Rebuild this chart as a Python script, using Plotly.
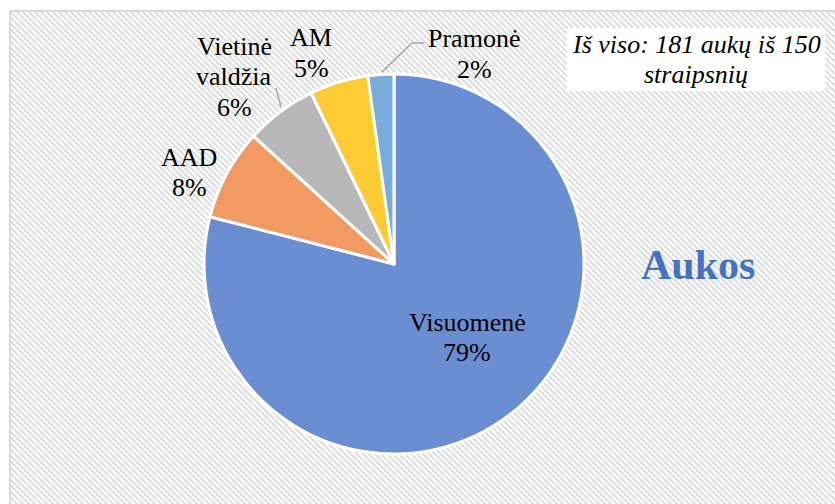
import base64
import plotly.graph_objects as go

# ---- data ----
categories = ["Visuomenė", "AAD", "Vietinė valdžia", "AM", "Pramonė"]
victims = [143, 14, 11, 9, 4]
slice_colors = ["#6B8ED2", "#F19B63", "#B8B8B8", "#FFCB33", "#78ACDD"]
total_victims = 181
total_articles = 150
title_text = "Aukos"

W, H = 835, 504
def px(x):
    return x / W
def py(y):
    return 1 - y / H

# ---- hatched background as SVG ----
bw, bh = W - 9, H - 10
svg = f'''<svg xmlns="http://www.w3.org/2000/svg" width="{bw}" height="{bh}" viewBox="0 0 {bw} {bh}">
<defs><pattern id="p" width="6" height="6" patternUnits="userSpaceOnUse">
<rect width="6" height="6" fill="#ffffff"/>
<path d="M-3,-3 L9,9 M-3,3 L3,9 M3,-3 L9,3" stroke="#dedede" stroke-width="2.1"/>
</pattern></defs>
<rect width="{bw}" height="{bh}" fill="url(#p)"/>
<path d="M1,{bh} L1,1 L{bw},1" fill="none" stroke="#d9d9d9" stroke-width="2"/>
</svg>'''
src = "data:image/svg+xml;base64," + base64.b64encode(svg.encode()).decode()

cx, cy, r = 394, 264, 190
fig = go.Figure(go.Pie(
    labels=categories,
    values=victims,
    sort=False,
    direction="clockwise",
    rotation=0,
    marker=dict(colors=slice_colors, line=dict(color="white", width=3)),
    textinfo="none",
    hoverinfo="label+percent",
    domain=dict(x=[px(cx - r), px(cx + r)], y=[py(cy + r), py(cy - r)]),
    showlegend=False,
))

pcts = [round(100 * v / sum(victims)) for v in victims]
label_lines = [
    [categories[0], f"{pcts[0]}%"],
    [categories[1], f"{pcts[1]}%"],
    ["Vietinė", "valdžia", f"{pcts[2]}%"],
    [categories[3], f"{pcts[3]}%"],
    [categories[4], f"{pcts[4]}%"],
]
# (center x, first line y) in pixels
label_pos = [(467, 322), (189, 157), (234, 46), (311, 38), (474, 39)]
line_step = 30.5

font_serif = "Liberation Serif"
annotations = []
def add_lines(lines, x, y0, size, italic=False):
    for i, t in enumerate(lines):
        annotations.append(dict(
            text=f"<i>{t}</i>" if italic else t,
            x=px(x), y=py(y0 + i * line_step), xref="paper", yref="paper",
            xanchor="center", yanchor="middle", showarrow=False,
            font=dict(family=font_serif, size=size, color="#000000"),
        ))

for lines, (x, y) in zip(label_lines, label_pos):
    add_lines(lines, x, y, 26)

add_lines([f"Iš viso: {total_victims} aukų iš {total_articles}", "straipsnių"],
          696, 44, 26, italic=True)

annotations.append(dict(
    text=f"<b>{title_text}</b>",
    x=px(698), y=py(265), xref="paper", yref="paper",
    xanchor="center", yanchor="middle", showarrow=False,
    font=dict(family=font_serif, size=42, color="#4472C4"),
))

shapes = [
    dict(type="rect", xref="paper", yref="paper", x0=px(567), x1=px(825),
         y0=py(91), y1=py(28), fillcolor="white", line=dict(width=0), layer="below"),
    dict(type="path", xref="paper", yref="paper",
         path=f"M {px(382)},{py(72)} L {px(412)},{py(43)} L {px(424)},{py(43)}",
         line=dict(color="#A6A6A6", width=1.5)),
    dict(type="line", xref="paper", yref="paper",
         x0=px(276), y0=py(88), x1=px(281), y1=py(107),
         line=dict(color="#A6A6A6", width=1.5)),
]

fig.update_layout(
    width=W, height=H,
    margin=dict(l=0, r=0, t=0, b=0),
    paper_bgcolor="white",
    plot_bgcolor="white",
    font=dict(family=font_serif),
    annotations=annotations,
    shapes=shapes,
    images=[dict(source=src, xref="paper", yref="paper", x=px(9), y=py(10),
                 sizex=bw / W, sizey=bh / H, xanchor="left", yanchor="top",
                 sizing="stretch", layer="below")],
)

fig.write_html("out.html", config={"displayModeBar": False},
               post_script="document.body.style.margin='0';document.body.style.overflow='hidden';")
